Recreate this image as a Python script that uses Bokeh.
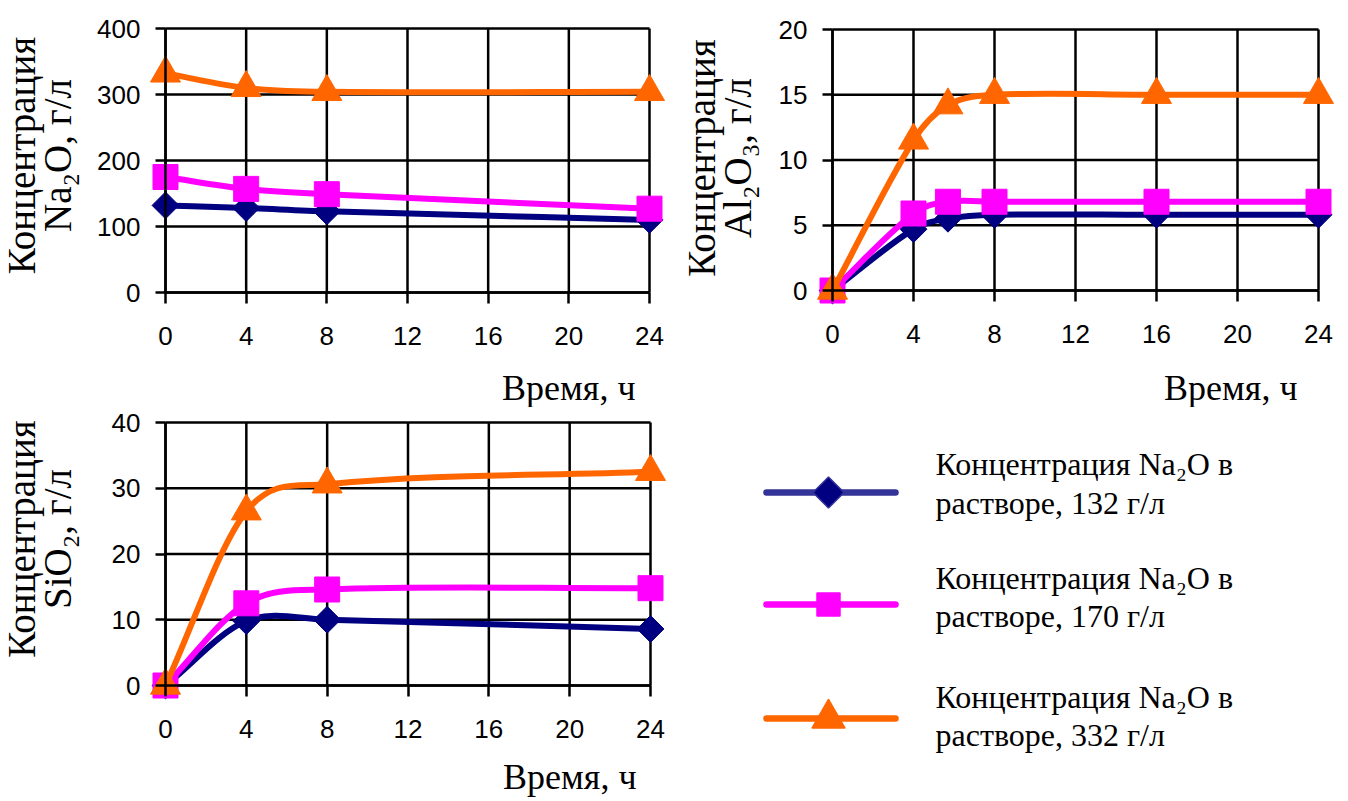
import numpy as np
from bokeh.plotting import figure
from bokeh.layouts import row, column
from bokeh.models import Range1d, FixedTicker, Label
from bokeh.core.properties import value
from bokeh.embed import file_html
from bokeh.resources import INLINE

# ---------------- data ----------------
hours_na2o = [0, 4, 8, 24]
na2o_132 = [132, 128, 123, 110]
na2o_170 = [175, 157, 149, 127]
na2o_332 = [332, 310, 304, 304]

hours_al2o3 = [0, 4, 5.7, 8, 16, 24]
al2o3_132 = [0, 4.7, 5.5, 5.8, 5.8, 5.8]
al2o3_170 = [0, 5.9, 6.8, 6.8, 6.8, 6.8]
al2o3_332 = [0, 11.5, 14.2, 15.0, 15.0, 15.0]

hours_sio2 = [0, 4, 8, 24]
sio2_132 = [0, 9.8, 10.0, 8.6]
sio2_170 = [0, 12.5, 14.6, 14.8]
sio2_332 = [0, 26.5, 30.6, 32.5]

x_ticks = [0, 4, 8, 12, 16, 20, 24]
na2o_ticks = [0, 100, 200, 300, 400]
al2o3_ticks = [0, 5, 10, 15, 20]
sio2_ticks = [0, 10, 20, 30, 40]

x_title = "Время, ч"
y_title_line1 = "Концентрация"
na2o_title = "Na₂O, г/л"
al2o3_title = "Al₂O₃, г/л"
sio2_title = "SiO₂, г/л"

legend_labels = [
    ("Концентрация Na₂O в", "растворе, 132 г/л"),
    ("Концентрация Na₂O в", "растворе, 170 г/л"),
    ("Концентрация Na₂O в", "растворе, 332 г/л"),
]

# ---------------- styles ----------------
NAVY = "#000080"
NAVY_LEG = "#333399"
MAGENTA = "#FF00FF"
ORANGE = "#FF6600"
SERIF = "Liberation Serif"
SANS = "Liberation Sans"
BASE_FIX = 10  # rendered alphabetic baseline sits this many px lower; compensate

series_style = [
    dict(color=NAVY, marker="square", angle=np.pi / 4, size=19),
    dict(color=MAGENTA, marker="square", angle=0.0, size=25),
    dict(color=ORANGE, marker="triangle", angle=0.0, size=30),
]


def smooth_segments(xs, ys):
    """Cubic Bezier segments through the data points (smoothed line)."""
    n = len(xs)
    m = []
    for i in range(n):
        if i == 0:
            m.append((ys[1] - ys[0]) / (xs[1] - xs[0]))
        elif i == n - 1:
            m.append((ys[-1] - ys[-2]) / (xs[-1] - xs[-2]))
        else:
            m.append((ys[i + 1] - ys[i - 1]) / (xs[i + 1] - xs[i - 1]))
    seg = dict(x0=[], y0=[], x1=[], y1=[], cx0=[], cy0=[], cx1=[], cy1=[])
    for i in range(n - 1):
        dx = xs[i + 1] - xs[i]
        seg["x0"].append(xs[i]); seg["y0"].append(ys[i])
        seg["x1"].append(xs[i + 1]); seg["y1"].append(ys[i + 1])
        seg["cx0"].append(xs[i] + dx / 3); seg["cy0"].append(ys[i] + m[i] * dx / 3)
        seg["cx1"].append(xs[i + 1] - dx / 3); seg["cy1"].append(ys[i + 1] - m[i + 1] * dx / 3)
    return seg


def make_panel(xs, series, y_ticks, title2, origin, size, box,
               ytitle_offsets, ytitle_shift, xtitle_dx, xtitle_dy):
    ox, oy = origin
    w, h = size
    bl, bt, br, bb = box
    xmax, ymax = x_ticks[-1], y_ticks[-1]
    sx, sy = (br - bl) / xmax, (bb - bt) / ymax

    p = figure(width=w, height=h,
               x_range=Range1d(-(bl - ox) / sx, xmax + (ox + w - br) / sx),
               y_range=Range1d(-(oy + h - bb) / sy, ymax + (bt - oy) / sy),
               output_backend="svg", toolbar_location=None, min_border=0)
    p.title.visible = False
    p.outline_line_color = None
    p.xgrid.visible = False
    p.ygrid.visible = False
    p.background_fill_color = "white"
    p.border_fill_color = "white"

    # grid lines from tick arrays
    p.segment(x0=x_ticks, y0=[0] * len(x_ticks), x1=x_ticks, y1=[ymax] * len(x_ticks),
              line_color="black", line_width=2.5)
    p.segment(x0=[0] * len(y_ticks), y0=y_ticks, x1=[xmax] * len(y_ticks), y1=y_ticks,
              line_color="black", line_width=2.5)

    for ax, ticks, tout, stand in ((p.xaxis[0], x_ticks, 11, 23), (p.yaxis[0], y_ticks, 10, 15)):
        ax.ticker = FixedTicker(ticks=ticks)
        ax.fixed_location = 0
        ax.bounds = (0, ticks[-1])
        ax.major_tick_out = tout
        ax.major_tick_in = 0
        ax.minor_tick_line_color = None
        ax.axis_line_width = 2.5
        ax.axis_line_color = "black"
        ax.major_tick_line_width = 2.5
        ax.major_tick_line_color = "black"
        ax.major_label_standoff = stand
        ax.major_label_text_font = SANS
        ax.major_label_text_font_size = "26px"
        ax.major_label_text_color = "black"

    for ys, st in zip(series, series_style):
        seg = smooth_segments(xs, ys)
        p.bezier(**seg, line_color=st["color"], line_width=6, line_cap="round")
        p.scatter(xs, ys, marker=st["marker"], angle=st["angle"], size=st["size"],
                  fill_color=st["color"], line_color=st["color"], line_width=1)

    # axis titles
    p.add_layout(Label(x=xmax, y=0, x_offset=xtitle_dx, y_offset=xtitle_dy + BASE_FIX, text=x_title,
                       text_align="right", text_baseline="alphabetic",
                       text_font=SERIF, text_font_size="36px", text_color="black"))
    for txt, off in zip((y_title_line1, title2), ytitle_offsets):
        p.add_layout(Label(x=0, y=ymax / 2, x_offset=off - BASE_FIX, y_offset=ytitle_shift,
                           angle=np.pi / 2, text=txt, text_align="center",
                           text_baseline="alphabetic",
                           text_font=SERIF, text_font_size="39px", text_color="black"))
    return p


W1, W2, H1, H2 = 674, 672, 407, 392

p1 = make_panel(hours_na2o, [na2o_132, na2o_170, na2o_332], na2o_ticks, na2o_title,
                (0, 0), (W1, H1), (165, 28, 649, 292), (-134, -98), 5, -14, -105)
p2 = make_panel(hours_al2o3, [al2o3_132, al2o3_170, al2o3_332], al2o3_ticks, al2o3_title,
                (W1, 0), (W2, H1), (832, 29, 1318, 290), (-121, -85), 2, -21, -107)
p3 = make_panel(hours_sio2, [sio2_132, sio2_170, sio2_332], sio2_ticks, sio2_title,
                (0, H1), (W1, H2), (165, 422, 650, 685), (-134, -98), 15, -14, -101)

# ---------------- legend panel (page coordinates) ----------------
leg = figure(width=W2, height=H2, x_range=Range1d(W1, W1 + W2), y_range=Range1d(H1 + H2, H1),
             x_axis_type=None, y_axis_type=None, output_backend="svg", toolbar_location=None,
             min_border=0)
leg.title.visible = False
leg.outline_line_color = None
leg.xgrid.visible = False
leg.ygrid.visible = False
leg.background_fill_color = "white"
leg.border_fill_color = "white"

key_x0, key_x1, key_mx = 766, 895, 828
key_y = [492, 604, 718]
text_x = 935
text_base = [(473, 512), (587, 625), (706, 744)]
leg_line_colors = [NAVY_LEG, MAGENTA, ORANGE]
leg_sizes = [22, 23, 33]

for i, st in enumerate(series_style):
    leg.segment(x0=[key_x0], y0=[key_y[i]], x1=[key_x1], y1=[key_y[i]],
                line_color=leg_line_colors[i], line_width=6.5, line_cap="round")
    leg.scatter([key_mx], [key_y[i]], marker=st["marker"], angle=st["angle"], size=leg_sizes[i],
                fill_color=st["color"], line_color=leg_line_colors[i], line_width=1.5)
    leg.text(x=[text_x, text_x], y=[b - BASE_FIX for b in text_base[i]], text=list(legend_labels[i]),
             text_font=value(SERIF), text_font_size="32px", text_baseline="alphabetic",
             text_align="left", text_color="black")

layout = column(row(p1, p2), row(p3, leg))
open("out.html", "w").write(file_html(layout, INLINE))
